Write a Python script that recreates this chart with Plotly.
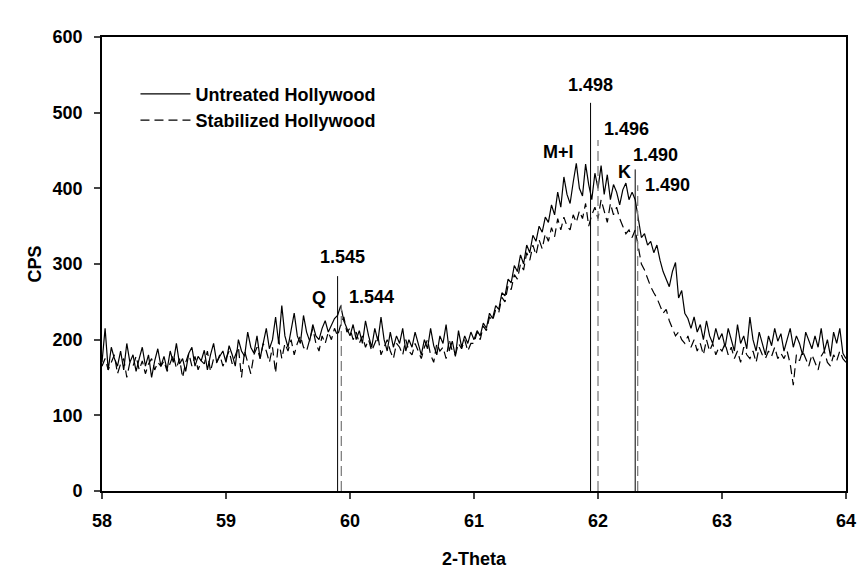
import plotly.graph_objects as go

# 2-Theta grid (58 to 64, step 0.025)
two_theta = [round(58 + 0.025 * i, 3) for i in range(241)]

untreated = [
    170, 215, 160, 190, 175, 165, 185, 160, 195, 170, 180, 158, 175, 190, 165, 180, 150, 172, 188, 165,
    178, 160, 185, 170, 195, 168, 175, 158, 182, 190, 165, 178, 172, 186, 160, 180, 195, 170, 178, 185,
    170, 192, 180, 165, 200, 185, 178, 210, 190, 182, 205, 175, 195, 215, 188, 200, 230, 195, 245, 205,
    190, 215, 235, 205, 195, 232, 210, 198, 220, 205, 200, 215, 225, 210, 218, 228, 232, 245, 225, 215,
    205, 220, 200, 212, 195, 225, 205, 190, 215, 198, 230, 200, 185, 210, 190, 205, 195, 215, 185, 200,
    190, 210, 195, 180, 200, 188, 215, 192, 180, 205, 195, 220, 185, 198, 178, 212, 190, 205, 195, 210,
    200, 212, 205, 222, 215, 235, 228, 245, 240, 262, 258, 280, 275, 298, 290, 312, 300, 325, 315, 338,
    330, 350, 342, 362, 355, 378, 365, 395, 375, 415, 392, 380, 408, 433, 400, 390, 432, 405, 385, 420,
    400, 430, 392, 418, 385, 405, 395, 378, 398, 407, 385, 395, 385, 360, 335, 340, 325, 330, 315, 325,
    305, 290, 280, 270, 290, 302, 255, 265, 235, 228, 215, 230, 210, 220, 200, 225, 205, 195, 215, 200,
    208, 190, 215, 198, 185, 220, 195, 205, 188, 230, 200, 185, 210, 195, 180, 205, 192, 215, 198, 208,
    185, 200, 215, 190, 205, 195, 180, 210, 198, 188, 205, 190, 215, 185, 200, 178, 210, 195, 215, 182,
    175,
]

stabilized = [
    165, 175, 160, 170, 180, 155, 168, 175, 150, 170, 165, 178, 160, 172, 155, 168, 175, 160, 170, 165,
    172, 158, 168, 180, 162, 175, 150, 170, 182, 165, 178, 160, 172, 168, 185, 158, 175, 170, 180, 165,
    175, 185, 168, 180, 190, 150, 185, 170, 155, 180, 190, 175, 195, 185, 170, 190, 156, 200, 175, 195,
    185, 200, 180, 195, 205, 190, 185, 200, 215, 195, 185, 205, 195, 210, 200, 215, 205, 220, 230, 210,
    215, 200, 210, 195, 205, 190, 200, 185, 195, 205, 180, 190, 200, 185, 175, 195, 190, 180, 200, 185,
    180, 195, 185, 175, 190, 200, 180, 170, 195, 185, 190, 175, 200, 185, 180, 195, 188, 200, 185, 195,
    195, 210, 200, 218, 212, 230, 225, 240, 236, 256, 250, 272, 266, 286, 280, 300, 292, 315, 305, 325,
    312, 332, 320, 340, 330, 348, 336, 360, 345, 362, 350, 345, 365, 355, 370, 360, 380, 350, 365, 375,
    360, 385, 370, 355, 380, 365, 375, 360, 350, 340, 345, 335, 345, 320, 300, 292, 280, 270, 262, 255,
    245, 235, 240, 225, 215, 205, 210, 200, 195, 205, 190, 200, 185, 195, 180, 200, 185, 195, 180, 190,
    185, 195, 180, 190, 175, 185, 170, 190, 180, 175, 185, 170, 190, 180, 175, 185, 178, 190, 175, 182,
    175, 185, 168, 140, 180, 172, 185, 175, 165, 180, 170, 160, 178, 185, 170, 165, 180, 172, 185, 175,
    170,
]

# Reference peak markers (position, height)
solid_peaks_x = [59.90, 61.94, 62.30]
solid_peaks_h = [284, 513, 425]
dashed_peaks_x = [59.93, 62.00, 62.32]
dashed_peaks_h = [246, 464, 404]

# Labels
label_text = ["1.545", "Q", "1.544", "1.498", "M+I", "1.496", "K", "1.490", "1.490"]
label_x = [59.94, 59.75, 60.17, 61.94, 61.68, 62.23, 62.21, 62.46, 62.56]
label_y = [309, 255, 256, 537, 448, 478, 421, 444, 405]

FONT = "Liberation Sans, Arial, sans-serif"
FS = 18

fig = go.Figure()
fig.add_trace(go.Scatter(x=two_theta, y=untreated, mode="lines", name="Untreated Hollywood",
                         line=dict(color="black", width=1.2)))
fig.add_trace(go.Scatter(x=two_theta, y=stabilized, mode="lines", name="Stabilized Hollywood",
                         line=dict(color="black", width=1.2, dash="9px,5px")))

for px, ph in zip(solid_peaks_x, solid_peaks_h):
    fig.add_trace(go.Scatter(x=[px, px], y=[0, ph], mode="lines", showlegend=False,
                             line=dict(color="black", width=1), hoverinfo="skip"))
for px, ph in zip(dashed_peaks_x, dashed_peaks_h):
    fig.add_trace(go.Scatter(x=[px, px], y=[0, ph], mode="lines", showlegend=False,
                             line=dict(color="#808080", width=1.3, dash="10px,5px"), hoverinfo="skip"))

for t, lx, ly in zip(label_text, label_x, label_y):
    fig.add_annotation(x=lx, y=ly, text=t, showarrow=False, xref="x", yref="y",
                       font=dict(family=FONT, size=FS, color="black", weight="bold"))

fig.update_layout(
    width=858, height=573,
    margin=dict(l=102, r=12, t=37, b=82),
    paper_bgcolor="white", plot_bgcolor="white",
    showlegend=True,
    legend=dict(x=0.045, y=0.915, xanchor="left", yanchor="top", bgcolor="rgba(0,0,0,0)",
                font=dict(family=FONT, size=FS, color="black", weight="bold"),
                itemwidth=50, tracegroupgap=0),
    font=dict(family=FONT, size=FS, color="black"),
)
fig.update_xaxes(range=[58, 64], tickvals=[58, 59, 60, 61, 62, 63, 64], automargin=False,
                 ticks="outside", ticklen=6, tickwidth=1.5, showgrid=False, zeroline=False,
                 showline=True, linecolor="black", linewidth=1.8, mirror=True,
                 ticklabelstandoff=6,
                 tickfont=dict(family=FONT, size=FS, color="black", weight="bold"),
                 title=dict(text="2-Theta", standoff=23,
                            font=dict(family=FONT, size=FS, color="black", weight="bold")))
fig.update_yaxes(range=[0, 600], tickvals=[0, 100, 200, 300, 400, 500, 600], automargin=False,
                 ticks="outside", ticklen=6, tickwidth=1.5, showgrid=False, zeroline=False,
                 showline=True, linecolor="black", linewidth=1.8, mirror=True,
                 ticklabelstandoff=8,
                 tickfont=dict(family=FONT, size=FS, color="black", weight="bold"),
                 title=dict(text="CPS", standoff=6,
                            font=dict(family=FONT, size=FS, color="black", weight="bold")))

fig.write_html("out.html")
